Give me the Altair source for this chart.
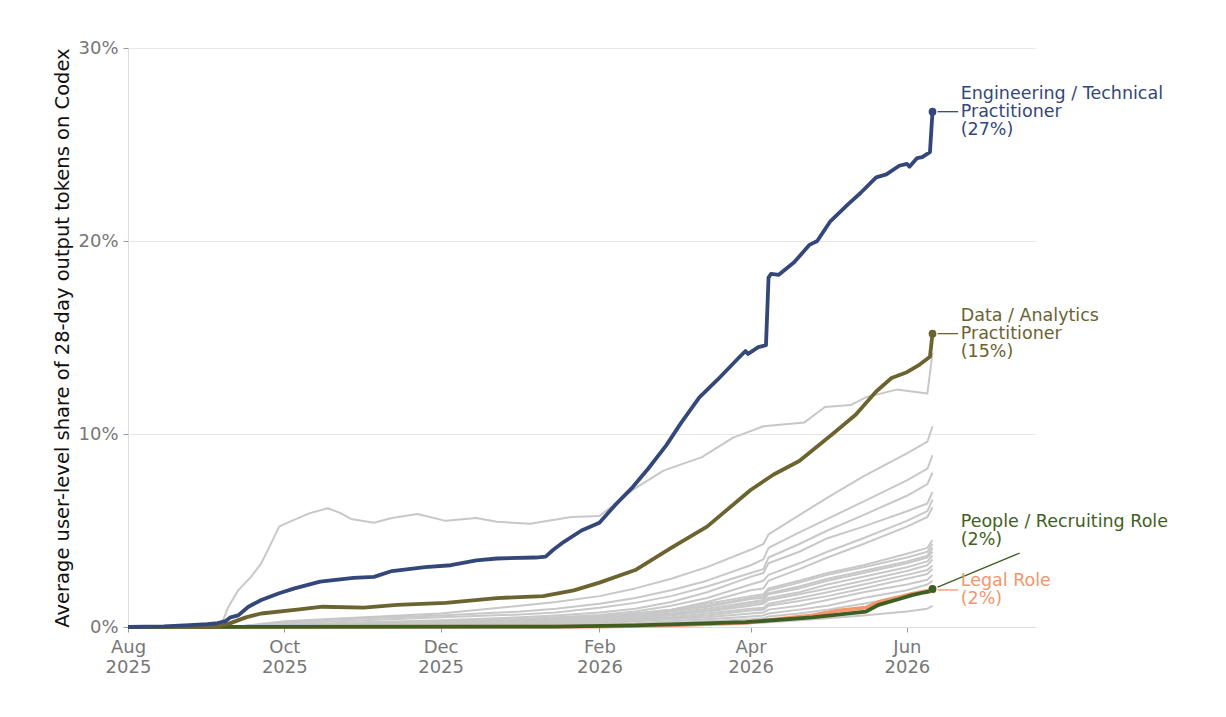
import altair as alt
import pandas as pd

# ---------------- data (values in percent) ----------------
eng_dates = ["2025-08-01","2025-08-15","2025-08-25","2025-09-01","2025-09-05","2025-09-08","2025-09-10","2025-09-13",
             "2025-09-17","2025-09-22","2025-09-29","2025-10-05","2025-10-15","2025-10-28","2025-11-05","2025-11-12",
             "2025-11-25","2025-12-05","2025-12-15","2025-12-23","2026-01-07","2026-01-11","2026-01-14","2026-01-18",
             "2026-01-25","2026-02-01","2026-02-07","2026-02-14","2026-02-20","2026-02-27","2026-03-05","2026-03-12",
             "2026-03-19","2026-03-27","2026-03-30","2026-03-31","2026-04-04","2026-04-07","2026-04-08","2026-04-09",
             "2026-04-12","2026-04-18","2026-04-24","2026-04-27","2026-05-02","2026-05-09","2026-05-14","2026-05-20",
             "2026-05-24","2026-05-29","2026-06-01","2026-06-02","2026-06-05","2026-06-07","2026-06-10","2026-06-11"]
eng_vals = [0,0.03,0.1,0.15,0.2,0.3,0.5,0.6,
            1.05,1.4,1.75,2.0,2.35,2.55,2.6,2.9,
            3.1,3.2,3.45,3.55,3.6,3.65,4.0,4.4,
            5.0,5.4,6.3,7.25,8.2,9.4,10.6,11.9,
            12.8,13.9,14.3,14.15,14.5,14.6,18.1,18.3,
            18.25,18.9,19.8,20.0,21.0,21.9,22.5,23.3,
            23.45,23.9,24.0,23.85,24.3,24.35,24.6,26.7]

data_dates = ["2025-08-01","2025-09-05","2025-09-10","2025-09-16","2025-09-22","2025-10-06","2025-10-16","2025-11-01",
              "2025-11-14","2025-12-03","2025-12-23","2026-01-10","2026-01-22","2026-02-01","2026-02-15","2026-03-01",
              "2026-03-15","2026-04-01","2026-04-10","2026-04-20","2026-05-03","2026-05-12","2026-05-20","2026-05-26",
              "2026-06-01","2026-06-06","2026-06-10","2026-06-11"]
data_vals = [0,0,0.2,0.5,0.7,0.9,1.05,1.0,
             1.15,1.25,1.5,1.6,1.9,2.3,2.95,4.1,
             5.2,7.1,7.9,8.6,10.0,11.0,12.2,12.9,
             13.2,13.6,14.0,15.2]

people_dates = ["2025-08-01","2026-01-15","2026-02-15","2026-03-04","2026-03-30","2026-04-25","2026-05-16","2026-05-21",
                "2026-05-29","2026-06-03","2026-06-08","2026-06-10","2026-06-11"]
people_vals = [0,0.02,0.08,0.15,0.25,0.5,0.8,1.15,1.45,1.65,1.8,1.85,1.97]

legal_dates = ["2025-08-01","2026-02-01","2026-03-04","2026-03-30","2026-04-25","2026-05-05","2026-05-16","2026-05-21",
               "2026-05-29","2026-06-03","2026-06-08","2026-06-10","2026-06-11"]
legal_vals = [0,0.02,0.1,0.22,0.6,0.85,1.0,1.3,1.55,1.72,1.85,1.9,1.95]

g0_dates = ["2025-08-01","2025-09-05","2025-09-07","2025-09-09","2025-09-13","2025-09-18","2025-09-22","2025-09-25",
            "2025-09-29","2025-10-03","2025-10-11","2025-10-18","2025-10-23","2025-10-27","2025-11-05","2025-11-12",
            "2025-11-22","2025-12-03","2025-12-15","2025-12-23","2026-01-05","2026-01-21","2026-02-01","2026-02-14",
            "2026-02-26","2026-03-13","2026-03-25","2026-04-06","2026-04-22","2026-04-30","2026-05-10","2026-05-16",
            "2026-05-28","2026-06-09","2026-06-11"]
g0_vals = [0,0,0.3,1.0,1.9,2.6,3.3,4.1,
           5.2,5.45,5.9,6.15,5.9,5.6,5.4,5.65,
           5.85,5.5,5.65,5.45,5.35,5.7,5.75,7.1,
           8.1,8.8,9.8,10.4,10.6,11.4,11.5,11.9,
           12.3,12.1,14.2]

grid_dates = ["2025-08-01","2025-09-01","2025-09-15","2025-10-01","2025-11-01","2025-12-01","2026-01-01","2026-01-15",
              "2026-02-01","2026-02-15","2026-03-01","2026-03-15","2026-04-01","2026-04-06","2026-04-08","2026-04-20",
              "2026-05-01","2026-05-15","2026-06-01","2026-06-09","2026-06-11"]
g1 = [0,0,0.05,0.3,0.5,0.7,1.1,1.3,1.6,2.0,2.5,3.1,4.0,4.3,4.8,5.8,6.7,7.8,9.0,9.6,10.4]
g2 = [0,0,0.05,0.25,0.45,0.6,0.8,0.95,1.2,1.5,1.9,2.4,3.2,3.5,4.1,4.9,5.6,6.5,7.6,8.2,8.9]
g3 = [0,0,0.03,0.2,0.35,0.5,0.65,0.75,1.0,1.25,1.6,2.1,2.8,3.0,3.6,4.3,5.0,5.8,6.8,7.4,8.0]
g4 = [0,0,0.03,0.12,0.25,0.35,0.5,0.6,0.75,0.95,1.3,1.8,2.6,2.8,3.3,3.9,4.6,5.2,6.0,6.4,7.0]
g5 = [0,0,0.02,0.1,0.2,0.3,0.42,0.5,0.62,0.8,1.1,1.5,2.2,2.4,2.7,3.3,3.9,4.6,5.5,6.0,6.6]
g6 = [0,0,0.02,0.06,0.14,0.22,0.32,0.4,0.5,0.7,0.9,1.3,1.9,2.0,2.4,3.0,3.6,4.3,5.2,5.7,6.2]
g7 = [0,0,0.02,0.08,0.15,0.25,0.35,0.45,0.55,0.7,0.9,1.2,1.6,1.7,2.0,2.4,2.8,3.2,3.8,4.1,4.5]
g8 = [0,0,0.02,0.06,0.15,0.2,0.3,0.4,0.5,0.65,0.85,1.1,1.5,1.6,1.9,2.3,2.7,3.1,3.6,3.9,4.3]
g9 = [0,0,0.01,0.05,0.1,0.18,0.28,0.35,0.45,0.6,0.8,1.05,1.45,1.5,1.75,2.1,2.5,2.9,3.4,3.7,4.1]
g10 = [0,0,0.01,0.05,0.1,0.15,0.25,0.3,0.4,0.55,0.7,0.95,1.3,1.4,1.7,2.0,2.4,2.8,3.3,3.6,3.9]
g11 = [0,0,0.01,0.04,0.08,0.12,0.2,0.28,0.35,0.5,0.65,0.85,1.2,1.3,1.5,1.8,2.2,2.6,3.1,3.4,3.7]
g12 = [0,0,0.01,0.03,0.07,0.1,0.18,0.25,0.3,0.45,0.6,0.8,1.1,1.2,1.4,1.7,2.0,2.4,2.9,3.2,3.5]
g13 = [0,0,0,0.03,0.06,0.1,0.15,0.2,0.28,0.4,0.5,0.7,0.95,1.0,1.2,1.5,1.8,2.2,2.7,2.95,3.2]
g14 = [0,0,0,0.02,0.05,0.08,0.12,0.18,0.25,0.35,0.45,0.6,0.85,0.9,1.1,1.35,1.6,2.0,2.5,2.75,3.0]
g15 = [0,0,0,0.02,0.04,0.06,0.1,0.15,0.2,0.3,0.4,0.5,0.7,0.75,0.9,1.1,1.4,1.8,2.2,2.45,2.7]
g16 = [0,0,0,0.01,0.03,0.05,0.08,0.1,0.15,0.2,0.3,0.4,0.55,0.6,0.7,0.9,1.1,1.5,1.9,2.2,2.4]
g17 = [0,0,0,0.01,0.02,0.04,0.06,0.08,0.1,0.15,0.2,0.3,0.4,0.45,0.55,0.7,0.9,1.2,1.6,1.9,2.1]
g18 = [0,0,0,0,0.01,0.02,0.03,0.04,0.05,0.08,0.1,0.15,0.2,0.22,0.25,0.35,0.45,0.6,0.8,0.95,1.1]
gray_series = [g1, g2, g3, g4, g5, g6, g7, g8, g9, g10, g11, g12, g13, g14, g15, g16, g17, g18]

# labels
label3_names = ["Engineering / Technical\nPractitioner\n(27%)", "Data / Analytics\nPractitioner\n(15%)"]
label3_y = [26.7, 15.2]
label2_names = ["People / Recruiting Role\n(2%)", "Legal Role\n(2%)"]
label2_y = [4.97, 1.92]
label_colors = ["#34477a", "#6b6330", "#3f5f22", "#f4956c"]

# ---------------- frames ----------------
def frame(name, dates, vals):
    return pd.DataFrame({"series": name, "date": dates, "share": [v / 100 for v in vals]})

gray_df = pd.concat([frame("g0", g0_dates, g0_vals)] +
                    [frame(f"g{i+1}", grid_dates, s) for i, s in enumerate(gray_series)])
eng_df = frame("eng", eng_dates, eng_vals)
data_df = frame("data", data_dates, data_vals)
people_df = frame("people", people_dates, people_vals)
legal_df = frame("legal", legal_dates, legal_vals)

end_df = pd.DataFrame({
    "date": ["2026-06-11"] * 4,
    "share": [legal_vals[-1] / 100, people_vals[-1] / 100, data_vals[-1] / 100, eng_vals[-1] / 100],
    "color": [label_colors[3], label_colors[2], label_colors[1], label_colors[0]],
})
conn_df = pd.DataFrame({
    "d1": ["2026-06-13", "2026-06-13", "2026-06-13", "2026-06-13"],
    "d2": ["2026-06-21", "2026-06-21", "2026-07-15", "2026-06-21"],
    "v1": [eng_vals[-1] / 100, data_vals[-1] / 100, 0.0207, 0.0192],
    "v2": [eng_vals[-1] / 100, data_vals[-1] / 100, 0.0383, 0.0192],
    "color": label_colors,
})
lab3_df = pd.DataFrame({"date": ["2026-06-22"] * 2, "share": [v / 100 for v in label3_y],
                        "text": label3_names, "color": label_colors[:2]})
lab2_df = pd.DataFrame({"date": ["2026-06-22"] * 2, "share": [v / 100 for v in label2_y],
                        "text": label2_names, "color": label_colors[2:]})

# ---------------- scales / axes ----------------
x_scale = alt.Scale(type="utc", domain=[alt.DateTime(year=2025, month=8, date=1, utc=True),
                                        alt.DateTime(year=2026, month=7, date=21, utc=True)])
y_scale = alt.Scale(domain=[0, 0.30], nice=False, zero=True)

tick_vals = [alt.DateTime(year=2025, month=8, date=1, utc=True), alt.DateTime(year=2025, month=10, date=1, utc=True),
             alt.DateTime(year=2025, month=12, date=1, utc=True), alt.DateTime(year=2026, month=2, date=1, utc=True),
             alt.DateTime(year=2026, month=4, date=1, utc=True), alt.DateTime(year=2026, month=6, date=1, utc=True)]

x_axis = alt.Axis(values=tick_vals, title=None, grid=False,
                  labelExpr="[utcFormat(datum.value, '%b'), utcFormat(datum.value, '%Y')]",
                  labelFontSize=18, labelColor="#777777", labelLineHeight=20, labelPadding=6,
                  tickSize=5, tickColor="#999999", domainColor="#dddddd", labelFlush=False)
y_axis = alt.Axis(values=[0, 0.1, 0.2, 0.3], format=".0%",
                  title="Average user-level share of 28-day output tokens on Codex",
                  titleFontSize=19.5, titleFontWeight="normal", titleColor="#111111", titlePadding=5,
                  labelFontSize=18, labelColor="#777777", labelPadding=5,
                  tickSize=5, tickColor="#999999", domainColor="#dddddd",
                  grid=True, gridColor="#e8e8e8", gridWidth=1)

X = alt.X("date:T", scale=x_scale, axis=x_axis)
Y = alt.Y("share:Q", scale=y_scale, axis=y_axis)
Xn = alt.X("date:T", scale=x_scale)
Yn = alt.Y("share:Q", scale=y_scale)

gray = alt.Chart(gray_df).mark_line(color="#c8c8c8", strokeWidth=2, strokeJoin="round").encode(
    x=X, y=Y, detail="series:N")

def hl(df, color):
    return alt.Chart(df).mark_line(color=color, strokeWidth=3.8, strokeJoin="round").encode(x=Xn, y=Yn)

legal = hl(legal_df, label_colors[3])
people = hl(people_df, label_colors[2])
data_line = hl(data_df, label_colors[1])
eng = hl(eng_df, label_colors[0])

dots = alt.Chart(end_df).mark_circle(size=60, opacity=1).encode(
    x=Xn, y=Yn, color=alt.Color("color:N", scale=None))

conns = alt.Chart(conn_df).mark_rule(strokeWidth=1.3).encode(
    x=alt.X("d1:T", scale=x_scale), x2="d2:T",
    y=alt.Y("v1:Q", scale=y_scale), y2="v2:Q",
    color=alt.Color("color:N", scale=None))

labels3 = alt.Chart(lab3_df).mark_text(align="left", baseline="middle", fontSize=17.5, dy=-18,
                                        lineBreak="\n", lineHeight=18).encode(
    x=Xn, y=Yn, text="text:N", color=alt.Color("color:N", scale=None))
labels2 = alt.Chart(lab2_df).mark_text(align="left", baseline="middle", fontSize=17.5, dy=-9,
                                        lineBreak="\n", lineHeight=18).encode(
    x=Xn, y=Yn, text="text:N", color=alt.Color("color:N", scale=None))

chart = alt.layer(gray, legal, people, data_line, eng, conns, dots, labels3, labels2).properties(
    width=907, height=579,
    autosize=alt.AutoSizeParams(type="none"),
    padding={"left": 120, "top": 40, "right": 175, "bottom": 70},
).configure(font="DejaVu Sans").configure_view(stroke=None)

chart.save("out.html", embed_options={"renderer": "svg", "actions": False})
